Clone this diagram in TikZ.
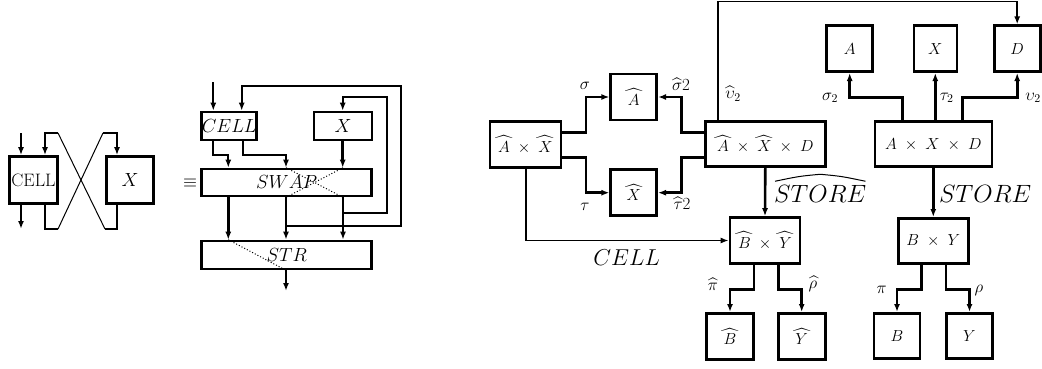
\RequirePackage{fix-cm}
\documentclass[tikz,border=0pt]{standalone}
\usepackage{exscale}
\usetikzlibrary{arrows.meta}
\newcommand{\fs}[1]{\fontsize{#1}{#1}\selectfont}
\newcommand{\tm}{\;\times\;}
% wide hat over a capital letter
\newcommand{\wh}[1]{\mkern-4mu\widehat{\mkern4mu#1\mkern4mu}\mkern-4mu}
\tikzset{
  bx/.style={draw, line width=2.6pt, inner sep=0pt},
  thn/.style={line width=1pt},
  med/.style={line width=1.7pt},
  thk/.style={line width=2.6pt},
  tip/.style={-{Latex[length=8pt,width=6pt]}},
  lbl/.style={font=\fs{17}, inner sep=0pt},
  big/.style={font=\fs{19}},
  dots/.style={dotted, line width=1pt},
}
\begin{document}
\begin{tikzpicture}[x=1pt,y=-1pt]
\useasboundingbox (0,0) rectangle (1042,368);

% ---------- left: CELL beside X with crossed wires ----------
\node[bx, minimum width=48, minimum height=47, font=\fs{18}] (cellL) at (33.5,180) {\textrm{CELL}};
\node[bx, minimum width=47, minimum height=47, big] (xL) at (130,180) {$X$};
\coordinate (inA) at (21,133);
\coordinate (tl) at (58,133);
\coordinate (tr) at (103,133);
\coordinate (bl) at (58,229);
\coordinate (br) at (105,229);
\coordinate (outA) at (21,229);
\draw[med,tip] (inA) -- (inA |- cellL.north);
\draw[med,tip] (tl) -- (45,133) -- (45,0 |- cellL.north);
\draw[med,tip] (tr) -- (117,133) -- (117,0 |- xL.north);
\draw[thn] (tl) -- (br);
\draw[thn] (tr) -- (bl);
\draw[med] (bl) -- (45,229) -- (45,0 |- cellL.south);
\draw[med] (br) -- (117,229) -- (117,0 |- xL.south);
\draw[med,tip] (outA |- cellL.south) -- (outA);
\node[font=\fs{18}] (eqv) at (190,183) {$\equiv$};

% ---------- middle: CELL and X through SWAP and STR ----------
\node[bx, minimum width=55, minimum height=28, big] (cellM) at (229.2,126) {$CELL$};
\node[bx, minimum width=58, minimum height=28, big] (xM) at (343,126) {$X$};
\node[bx, minimum width=170, minimum height=27, big] (swap) at (286.7,182.5) {$SWAP$};
\node[bx, minimum width=170, minimum height=28, big] (str) at (286.7,255) {$STR$};
\coordinate (inM) at (213.3,82);
\coordinate (outM) at (286,291);
\draw[med,tip] (inM) -- (inM |- cellM.north);
\draw[med,tip] (213.3,0 |- cellM.south) -- (213.3,155) -- (228.3,155) -- (228.3,0 |- swap.north);
\draw[med,tip] (242.7,0 |- cellM.south) -- (242.7,155) -- (286,155) -- (286,0 |- swap.north);
\draw[thk,tip] (342.7,0 |- xM.south) -- (342.7,0 |- swap.north);
\draw[thk,tip] (228.3,0 |- swap.south) -- (228.3,0 |- str.north);
\draw[med,tip] (286,0 |- swap.south) -- (286,0 |- str.north);
\draw[thk,tip] (343,0 |- swap.south) -- (343,0 |- str.north);
\draw[med,tip] (286,225.7) -- (400.7,225.7) -- (400.7,86) -- (241.7,86) -- (241.7,0 |- cellM.north);
\draw[med,tip] (343,212.7) -- (387.3,212.7) -- (387.3,97.3) -- (342.7,97.3) -- (342.7,0 |- xM.north);
\draw[med,tip] (286,0 |- str.south) -- (outM);
\draw[dots] (286,0 |- swap.north) -- (343,0 |- swap.south);
\draw[dots] (343,0 |- swap.north) -- (286,0 |- swap.south);
\draw[dots] (228.3,0 |- str.north) -- (286,0 |- str.south);

% ---------- right: products and projections ----------
\tikzset{rb/.style={bx, font=\fs{16}}}
\node[rb, minimum width=71, minimum height=46] (AX) at (525.3,144.7) {$\wh{A}\tm\wh{X}$};
\node[rb, minimum width=46, minimum height=46] (Ah) at (633.7,97) {$\wh{A}$};
\node[rb, minimum width=46, minimum height=46] (Xh) at (633.7,192.7) {$\wh{X}$};
\node[rb, minimum width=120, minimum height=45] (AXDh) at (765.3,144.2) {$\wh{A}\tm\wh{X}\tm D$};
\node[rb, minimum width=117, minimum height=45] (AXD) at (933.3,144.2) {$A\tm X\tm D$};
\node[rb, minimum width=46, minimum height=46] (A) at (849.7,48.7) {$A$};
\node[rb, minimum width=43, minimum height=46] (X) at (935.3,48.7) {$X$};
\node[rb, minimum width=46, minimum height=46] (D) at (1017.2,48.7) {$D$};
\node[rb, minimum width=70, minimum height=46] (BYh) at (765,240.5) {$\wh{B}\tm\wh{Y}$};
\node[rb, minimum width=47, minimum height=46] (Bh) at (730,336.3) {$\wh{B}$};
\node[rb, minimum width=47, minimum height=46] (Yh) at (801.7,336.3) {$\wh{Y}$};
\node[rb, minimum width=70, minimum height=45] (BY) at (933.3,240.8) {$B\tm Y$};
\node[rb, minimum width=46, minimum height=45] (B) at (897,335.8) {$B$};
\node[rb, minimum width=46, minimum height=45] (Y) at (969.5,335.8) {$Y$};

\draw[thk,tip] (AX.east |- 0,132.7) -- (586,132.7) -- (586,0 |- Ah.west) -- (Ah.west);
\draw[thk,tip] (AX.east |- 0,157.3) -- (586,157.3) -- (586,0 |- Xh.west) -- (Xh.west);
\draw[thk,tip] (AXDh.west |- 0,132.7) -- (681.7,132.7) -- (681.7,0 |- Ah.east) -- (Ah.east);
\draw[thk,tip] (AXDh.west |- 0,157.3) -- (681.7,157.3) -- (681.7,0 |- Xh.east) -- (Xh.east);
\draw[med,tip] (718.3,0 |- AXDh.north) -- (718.3,1.5) -- (1017.2,1.5) -- (D.north);
\draw[thk,tip] (902.7,0 |- AXD.north) -- (902.7,97.3) -- (849.7,97.3) -- (A.south);
\draw[thk,tip] (AXD.north -| X.south) -- (X.south);
\draw[thk,tip] (962.7,0 |- AXD.north) -- (962.7,97.3) -- (1017.2,97.3) -- (D.south);
\draw[thk,tip] (AXDh.south) -- (BYh.north);
\draw[thk,tip] (AXD.south) -- (BY.north);
\draw[med,tip] (526,0 |- AX.south) -- (526,0 |- BYh.west) -- (BYh.west);
\draw[thk,tip] (754,0 |- BYh.south) -- (754,289.3) -- (730,289.3) -- (Bh.north);
\draw[thk,tip] (778.3,0 |- BYh.south) -- (778.3,289.3) -- (801.7,289.3) -- (Yh.north);
\draw[thk,tip] (921.7,0 |- BY.south) -- (921.7,289.3) -- (897,289.3) -- (B.north);
\draw[thk,tip] (946,0 |- BY.south) -- (946,289.3) -- (969.5,289.3) -- (Y.north);

\node[lbl] (lsig) at (585,86) {$\sigma$};
\node[lbl] (lsigh) at (681,84) {$\widehat{\sigma}2$};
\node[lbl] (ltau) at (585,207) {$\tau$};
\node[lbl] (ltauh) at (682,203) {$\widehat{\tau}2$};
\node[lbl] (lupsh) at (733,94) {$\widehat{\upsilon}_2$};
\node[lbl] (lsig2) at (830,98) {$\sigma_2$};
\node[lbl] (ltau2) at (946.7,98) {$\tau_2$};
\node[lbl] (lups2) at (1033,98) {$\upsilon_2$};
\node[font=\fs{25}, inner sep=0pt, anchor=west] (lstoreh) at (774,194) {$STORE$};
\draw[thn] ([shift={(1,-4)}]lstoreh.north west)
  .. controls ([shift={(25,-9)}]lstoreh.north west) .. ([shift={(0,-11)}]lstoreh.north)
  .. controls ([shift={(-25,-9)}]lstoreh.north east) .. ([shift={(-1,-4)}]lstoreh.north east);
\node[font=\fs{25}, inner sep=0pt, anchor=west] (lstore) at (939,194) {$STORE$};
\node[font=\fs{23}, inner sep=0pt] (lcell) at (626.7,258) {$CELL$};
\node[lbl] (lpih) at (713,284) {$\widehat{\pi}$};
\node[lbl] (lrhoh) at (813,284) {$\widehat{\rho}$};
\node[lbl] (lpi) at (881.7,290) {$\pi$};
\node[lbl] (lrho) at (979,290) {$\rho$};
\end{tikzpicture}
\end{document}
